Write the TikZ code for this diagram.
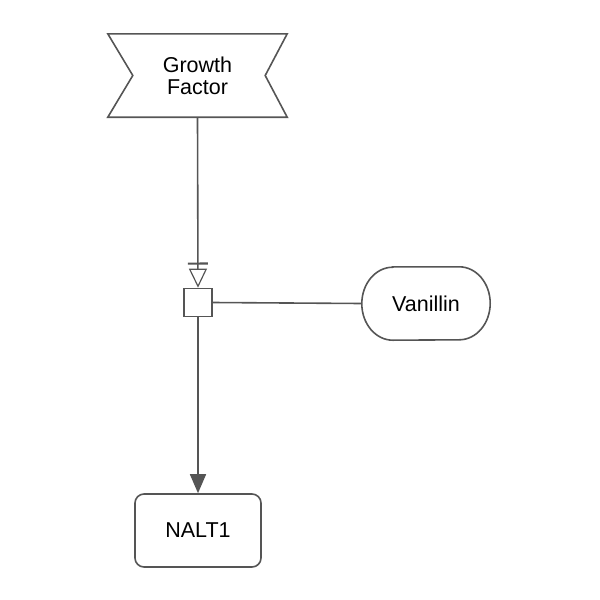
\documentclass[tikz,border=0pt]{standalone}
\usepackage{fontspec}
\setmainfont{Liberation Sans}
\usetikzlibrary{arrows.meta}
\definecolor{strk}{HTML}{555555}
\tikzset{
  x=1pt,y=-1pt,
  every node/.style={font=\fontsize{21.5}{22}\selectfont, text=black},
  ln/.style={draw=strk, line width=1.6pt},
  box/.style={ln, rounded corners=9pt, minimum width=126pt, minimum height=73pt},
  stadarea/.style={minimum width=128pt, minimum height=73pt, inner sep=0pt},
  proc/.style={ln, minimum width=28pt, minimum height=28pt, inner sep=0pt},
}
\begin{document}
\begin{tikzpicture}
\useasboundingbox (0,0) rectangle (600,600);
\node[minimum width=179pt, minimum height=83pt, align=center, inner sep=0pt] (gf) at (197.5,75.5) {Growth\\Factor};
\draw[ln, line join=miter] (gf.north west) -- (gf.north east) -- ([xshift=-22pt]gf.east) -- (gf.south east)
  -- (gf.south west) -- ([xshift=25pt]gf.west) -- cycle;
\node[proc] (sq) at (198,302.5) {};
\node[stadarea] (van) at (426,303.5) {Vanillin};
\draw[ln] ([xshift=31pt]van.north west) -- ([xshift=-31pt]van.north east)
  arc[start angle=90, end angle=-90, x radius=31pt, y radius=36.5pt]
  -- ([xshift=31pt]van.south west)
  arc[start angle=270, end angle=90, x radius=31pt, y radius=36.5pt] -- cycle;
\node[box] (nalt) at (198,530.5) {NALT1};
\draw[ln, -{Bar[width=20pt,line width=2.2pt,sep=4pt] Triangle[open,length=19pt,width=18pt,line width=1.2pt]}] (gf.south) -- (sq.north);
\draw[ln] (sq.east) -- (van.west);
\draw[ln, -{Triangle[length=19pt,width=16pt]}] (sq.south) -- (nalt.north);
\end{tikzpicture}
\end{document}
